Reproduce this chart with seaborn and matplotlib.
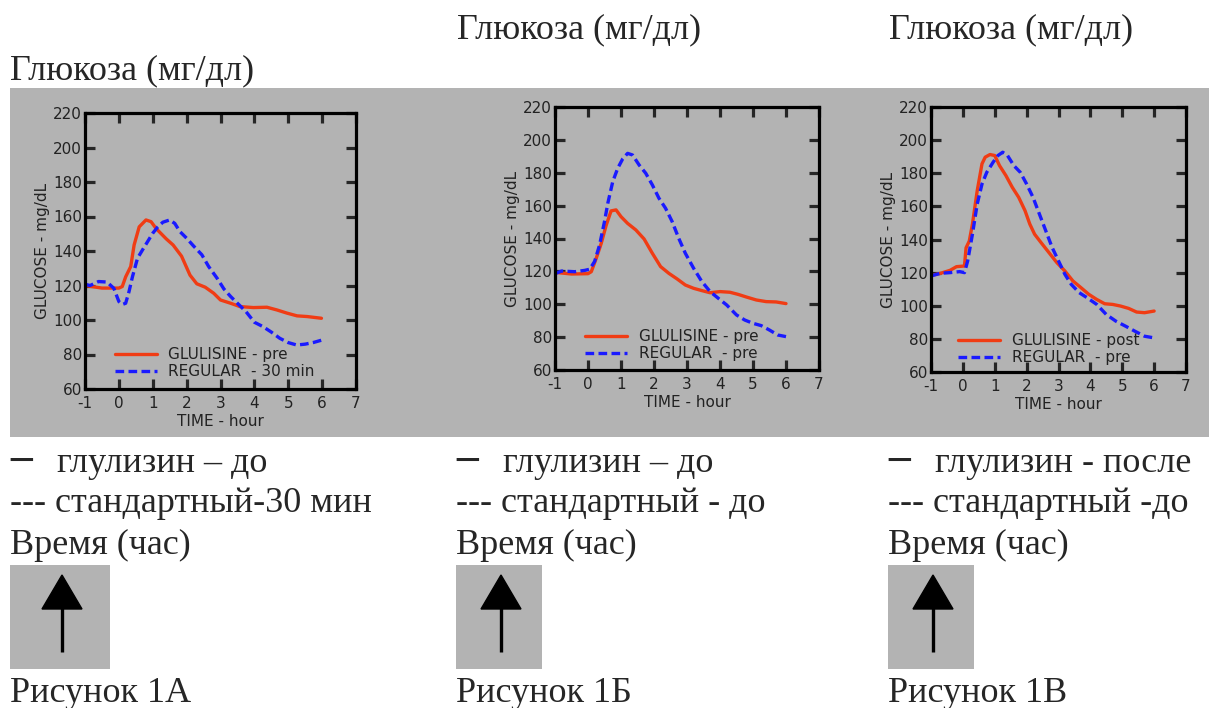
import numpy as np
import pandas as pd
import matplotlib
matplotlib.use("Agg")
import matplotlib.pyplot as plt
import seaborn as sns
from matplotlib.patches import Polygon
from matplotlib.lines import Line2D

# ---------------- data ----------------
hours = [-1, 0, 1, 2, 3, 4, 5, 6, 7]
glucose_ticks = [60, 80, 100, 120, 140, 160, 180, 200, 220]

# Panel A
A_glu_t = [-1, -0.5, 0.0, 0.1, 0.2, 0.35, 0.45, 0.6, 0.8, 0.95, 1.1, 1.4, 1.6, 1.85, 2.1, 2.3,
           2.55, 2.8, 3.0, 3.3, 3.57, 3.97, 4.37, 4.67, 4.96, 5.26, 5.56, 5.98]
A_glu_g = [120, 118.5, 118.5, 119.4, 125, 131, 143.5, 154, 158, 157, 153, 147, 143.5, 137, 126, 121,
           119, 115.5, 111.6, 109.7, 107.8, 107.2, 107.4, 105.8, 104, 102.4, 102, 101]
A_reg_t = [-1, -0.85, -0.6, -0.35, -0.15, 0.0, 0.1, 0.2, 0.3, 0.4, 0.55, 0.7, 0.85, 1.0, 1.15, 1.3,
           1.5, 1.65, 1.8, 2.0, 2.2, 2.45, 2.65, 2.9, 3.1, 3.3, 3.5, 3.75, 4.0, 4.25, 4.5, 4.75,
           5.0, 5.25, 5.5, 5.75, 6.0]
A_reg_g = [120.7, 120, 122.3, 122, 118.4, 110.7, 109, 109.7, 116.5, 125, 135.8, 140.7, 145.5, 150.3,
           154, 156.7, 158, 156, 151.3, 147.4, 143, 137.8, 131, 124.2, 118, 113.6, 109.7, 104.9,
           98.7, 96.2, 93, 89.4, 86.9, 85.5, 86, 87, 88.4]

# Panel B
B_glu_t = [-1, -0.5, 0, 0.1, 0.25, 0.4, 0.55, 0.7, 0.85, 1.0, 1.2, 1.45, 1.7, 1.95, 2.2, 2.45, 2.7,
           2.95, 3.2, 3.45, 3.7, 4.0, 4.3, 4.55, 4.8, 5.1, 5.4, 5.7, 6.0]
B_glu_g = [119.4, 118.4, 118.6, 119.8, 128, 137, 148, 156.8, 157.4, 153.3, 149.2, 145.2, 139.7, 131,
           122.9, 118.8, 115.4, 111.7, 109.7, 108.3, 107, 107.7, 107.3, 106, 104.4, 102.6, 101.6,
           101.4, 100.4]
B_reg_t = [-1, -0.8, -0.4, -0.1, 0.05, 0.2, 0.35, 0.5, 0.6, 0.75, 0.9, 1.05, 1.2, 1.35, 1.55, 1.75,
           1.95, 2.15, 2.35, 2.55, 2.75, 2.95, 3.2, 3.45, 3.7, 3.95, 4.2, 4.5, 4.75, 5.0, 5.25,
           5.5, 5.75, 6.0]
B_reg_g = [118.6, 120.2, 119.8, 120.6, 121.3, 126, 136, 150.3, 161.4, 174.6, 182.7, 188.4, 191.8,
           190.8, 184.7, 179.7, 172.6, 164.5, 158.4, 150.3, 140.1, 131, 121.9, 113.8, 107.7, 103.6,
           99.6, 93.5, 90.4, 88.4, 87, 84.3, 81.3, 80.3]

# Panel C
C_glu_t = [-1, -0.7, -0.4, -0.2, 0.05, 0.1, 0.2, 0.3, 0.45, 0.6, 0.7, 0.85, 1.0, 1.15, 1.35, 1.55,
           1.75, 1.95, 2.1, 2.25, 2.45, 2.7, 2.95, 3.2, 3.45, 3.7, 3.95, 4.2, 4.45, 4.7, 4.95,
           5.2, 5.45, 5.7, 6.0]
C_glu_g = [118.2, 119.6, 121.4, 123.6, 124, 135, 139, 149.3, 169.5, 185.7, 189.7, 191.3, 190.7,
           184.6, 178.6, 171.5, 165.5, 157.4, 149.3, 143.2, 138.2, 132.1, 126, 121, 115, 111,
           106.9, 103.8, 101.2, 100.8, 99.8, 98.4, 96.2, 95.8, 96.8]
C_reg_t = [-1, -0.7, -0.4, -0.1, 0.05, 0.15, 0.3, 0.45, 0.6, 0.75, 0.95, 1.1, 1.25, 1.4, 1.6, 1.8,
           2.0, 2.2, 2.4, 2.6, 2.8, 3.0, 3.2, 3.4, 3.65, 3.9, 4.2, 4.5, 4.8, 5.1, 5.4, 5.7, 6.0]
C_reg_g = [118, 119.6, 120, 120.6, 120, 127, 143.2, 161.4, 173.5, 180.6, 186.7, 190.7, 192.7,
           190.7, 184.6, 180.6, 173.5, 165.5, 155.4, 145.3, 135.2, 127.1, 119, 112.9, 107.9,
           104.8, 100.8, 94.7, 90.7, 87.7, 84.6, 81.6, 80.6]

legend_A = ["GLULISINE - pre", "REGULAR  - 30 min"]
legend_B = ["GLULISINE - pre", "REGULAR  - pre"]
legend_C = ["GLULISINE - post", "REGULAR  - pre"]

top_label = "Глюкоза (мг/дл)"
col_line1 = ["глулизин – до", "глулизин – до", "глулизин - после"]
col_line2 = ["--- стандартный-30 мин", "--- стандартный - до", "--- стандартный -до"]
col_line3 = ["Время (час)", "Время (час)", "Время (час)"]
col_caption = ["Рисунок 1А", "Рисунок 1Б", "Рисунок 1В"]

# ---------------- style ----------------
sns.set_theme(style="ticks")
plt.rcParams["font.family"] = ["DejaVu Sans"]
plt.rcParams["axes.unicode_minus"] = False
GRAY = "#b3b3b3"
RED = "#f03c14"
BLUE = "#1a1aff"
SERIF = ["Liberation Serif", "DejaVu Serif"]
DASH = (0, (2.6, 1.3))

W, H = 1209, 708
fig = plt.figure(figsize=(W / 100, H / 100), dpi=100)
fig.patch.set_facecolor("white")


def rect(l, t, r, b):
    return [l / W, 1 - b / H, (r - l) / W, (b - t) / H]


def fx(x):
    return x / W


def fy(y):
    return 1 - y / H


# gray band behind the three charts (its own background axes)
band = fig.add_axes(rect(10, 88, 1209, 437), zorder=-10)
band.set_facecolor(GRAY)
band.set_xticks([])
band.set_yticks([])
for s in band.spines.values():
    s.set_visible(False)

panels = [
    (rect(85, 113, 356, 389), A_glu_t, A_glu_g, A_reg_t, A_reg_g, legend_A, (0.11, 0.036)),
    (rect(555, 107, 819, 370), B_glu_t, B_glu_g, B_reg_t, B_reg_g, legend_B, (0.114, 0.034)),
    (rect(931, 107, 1186, 372), C_glu_t, C_glu_g, C_reg_t, C_reg_g, legend_C, (0.106, 0.026)),
]

for r, gt, gg, rt, rg, labels, anchor in panels:
    ax = fig.add_axes(r)
    ax.set_facecolor(GRAY)
    df_g = pd.DataFrame({"t": gt, "g": gg})
    df_r = pd.DataFrame({"t": rt, "g": rg})
    sns.lineplot(data=df_g, x="t", y="g", ax=ax, color=RED, lw=2.4, label=labels[0],
                 estimator=None, sort=True)
    sns.lineplot(data=df_r, x="t", y="g", ax=ax, color=BLUE, lw=2.4, label=labels[1],
                 estimator=None, sort=True)
    ax.lines[1].set_linestyle(DASH)
    ax.set_xlim(-1, 7)
    ax.set_ylim(60, 220)
    ax.set_xticks(hours)
    ax.set_yticks(glucose_ticks)
    ax.set_xlabel("TIME - hour", fontsize=11, color="#222222", labelpad=2)
    ax.set_ylabel("GLUCOSE - mg/dL", fontsize=11, color="#222222", labelpad=2)
    for s in ax.spines.values():
        s.set_linewidth(2.3)
        s.set_color("black")
        s.set_visible(True)
    ax.tick_params(direction="in", length=7, width=2.3, top=True, right=True,
                   labelsize=11, labelcolor="#222222")
    ax.tick_params(axis="x", pad=5)
    ax.tick_params(axis="y", pad=2)
    leg = ax.legend(loc="lower left", bbox_to_anchor=anchor, frameon=False, fontsize=11,
                    handlelength=2.75, handletextpad=0.75, labelspacing=0.12,
                    borderpad=0, borderaxespad=0)
    for t in leg.get_texts():
        t.set_color("#222222")
    hl = leg.get_lines()
    for h in hl:
        h.set_linewidth(2.4)
    hl[1].set_linestyle(DASH)
    ax.grid(False)

# ---------------- text around the charts ----------------
FS = 26
fig.text(fx(457), fy(38), top_label, fontsize=FS, family=SERIF, va="baseline")
fig.text(fx(889), fy(38), top_label, fontsize=FS, family=SERIF, va="baseline")
fig.text(fx(10), fy(79), top_label, fontsize=FS, family=SERIF, va="baseline")

cols = [10, 456, 888]
box_w = [100, 86, 86]
for i, cx in enumerate(cols):
    fig.text(fx(cx), fy(472), "─", fontsize=FS, family=["DejaVu Sans"], va="baseline",
             fontweight="bold")
    fig.text(fx(cx + 47), fy(472), col_line1[i], fontsize=FS, family=SERIF, va="baseline")
    fig.text(fx(cx), fy(512), col_line2[i], fontsize=FS, family=SERIF, va="baseline")
    fig.text(fx(cx), fy(554), col_line3[i], fontsize=FS, family=SERIF, va="baseline")
    fig.text(fx(cx), fy(702), col_caption[i], fontsize=FS, family=SERIF, va="baseline")
    # gray box with upward arrow
    bx = fig.add_axes(rect(cx, 565, cx + box_w[i], 669))
    bx.set_facecolor(GRAY)
    bx.set_xlim(0, box_w[i])
    bx.set_ylim(669, 565)
    for s in bx.spines.values():
        s.set_visible(False)
    bx.set_xticks([])
    bx.set_yticks([])
    c = box_w[i] / 2 + 2
    bx.add_line(Line2D([c, c], [606, 652], color="black", lw=2.4, solid_capstyle="butt"))
    bx.add_patch(Polygon([[c, 575], [c - 20, 609], [c + 20, 609]], closed=True,
                         facecolor="black", edgecolor="black"))

fig.savefig("out.png", dpi=100, facecolor="white")
